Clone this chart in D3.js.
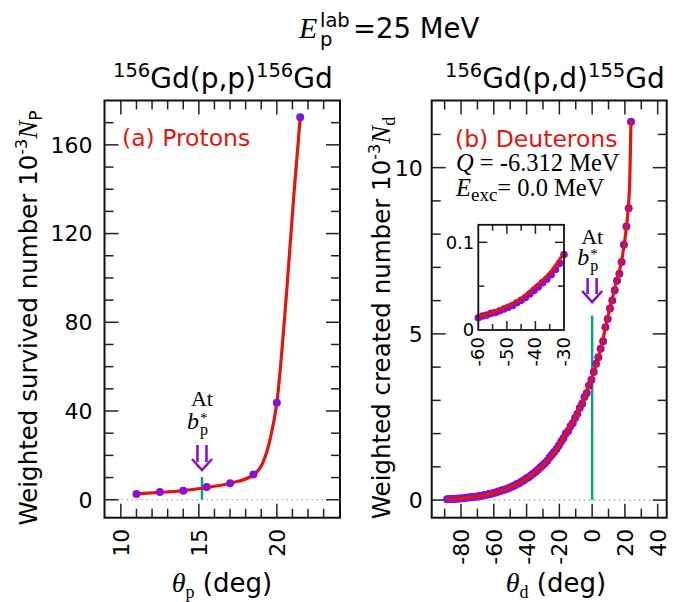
<!DOCTYPE html>
<html>
<head>
<meta charset="utf-8">
<script src="https://cdn.jsdelivr.net/npm/d3@7"></script>
<style>
  body { margin: 0; background: #fff; }
  svg { display: block; }
</style>
</head>
<body>
<svg id="chart" width="685" height="602"></svg>
<script>
// ---------- data ----------
// (a) protons
var protonTheta = [11, 12.5, 14, 15.5, 17, 18.5, 20, 21.5];
var protonN     = [2.6, 3.5, 4.1, 5.7, 7.4, 11.4, 43.7, 172.4];
var protonFitTheta = [11, 12.5, 14, 15.5, 17, 18.5, 19.1, 19.56, 20, 20.64, 21.07, 21.5];
var protonFitN     = [2.6, 3.3, 4.1, 5.5, 7.4, 11.2, 16.6, 27, 43.7, 94.8, 135.5, 172.4];

// (b) deuterons
var deutTheta = [23.7, 22.3, 20.9, 19.4, 18.0, 16.6, 15.2, 13.8, 12.3, 10.9,
  9.5, 8.1, 6.7, 5.2, 3.8, 2.4, 1.0, -0.4, -1.9, -3.3,
  -4.7, -6.1, -7.5, -9.0, -10.4, -11.8, -13.2, -14.6, -16.1, -17.5,
  -18.9, -20.3, -21.7, -23.2, -24.6, -26.0, -27.4, -28.8, -30.3, -31.7,
  -33.1, -34.5, -35.9, -37.4, -38.8, -40.2, -41.6, -43.0, -44.5, -45.9,
  -47.3, -48.7, -50.1, -51.6, -53.0, -54.4, -55.8, -57.2, -58.7, -60.1,
  -61.5, -62.9, -64.3, -65.8, -67.2, -68.6, -70.0, -71.4, -72.9, -74.3,
  -75.7, -77.1, -78.5, -80.0, -81.4, -82.8, -84.2, -85.6, -87.1, -88.5];
var deutN = [11.38, 8.78, 8.23, 7.68, 7.16, 6.81, 6.6, 6.31, 6.0, 5.76,
  5.45, 5.2, 4.78, 4.55, 4.3, 4.1, 3.85, 3.62, 3.45, 3.22,
  3.1, 2.9, 2.78, 2.6, 2.47, 2.32, 2.22, 2.08, 2.0, 1.86,
  1.76, 1.64, 1.54, 1.45, 1.36, 1.28, 1.18, 1.11, 1.04, 0.98,
  0.91, 0.85, 0.8, 0.74, 0.69, 0.65, 0.6, 0.56, 0.51, 0.48,
  0.44, 0.41, 0.38, 0.35, 0.32, 0.3, 0.28, 0.26, 0.23, 0.21,
  0.19, 0.18, 0.16, 0.15, 0.13, 0.12, 0.11, 0.1, 0.09, 0.085,
  0.075, 0.07, 0.06, 0.05, 0.045, 0.04, 0.035, 0.03, 0.03, 0.025];
var deutFitTheta = [-88.5, -80, -70, -60, -50, -40, -30, -20, -15, -10, -5, 0, 5, 10, 15, 18, 20, 21, 22, 23, 23.7];
var deutFitN     = [0.025, 0.05, 0.11, 0.21, 0.38, 0.65, 1.05, 1.65, 2.1, 2.5, 3.05, 3.7, 4.5, 5.6, 6.6, 7.2, 7.85, 8.25, 8.75, 9.7, 11.4];

// inset of (b)
var insetTheta = [-60, -58.5, -57, -55.5, -54, -52.5, -51, -49.5, -48, -46.5, -45,
  -43.5, -42, -40.5, -39, -37.5, -36, -34.5, -33, -31.5, -30];
var insetN = [0.014, 0.016, 0.017, 0.019, 0.020, 0.022, 0.024, 0.026, 0.028, 0.031, 0.034,
  0.037, 0.041, 0.045, 0.049, 0.054, 0.058, 0.063, 0.069, 0.076, 0.086];
var insetFitTheta = [-60, -55, -50, -45, -40, -35, -30];
var insetFitN     = [0.015, 0.020, 0.027, 0.036, 0.050, 0.065, 0.088];

// b*_p markers
var bStarProton = 15.2, bStarProtonTop = 10.2;
var bStarDeut = 0, bStarDeutTop = 5.55;

// ---------- styles ----------
var purple = "#8a0fd9", red = "#e5140c", green = "#0aa37c";
var sans = "DejaVu Sans, Verdana, sans-serif";
var serif = "Liberation Serif, Times New Roman, serif";

var svg = d3.select("#chart");

// ---------- scales ----------
var xL = d3.scaleLinear().domain([8.95, 24.05]).range([104.5, 340]);
var yL = d3.scaleLinear().domain([-8.1, 180]).range([517.7, 100.5]);
var xR = d3.scaleLinear().domain([-97.9, 45.5]).range([431.7, 666.7]);
var yR = d3.scaleLinear().domain([-0.53, 12.02]).range([517.7, 100.5]);
var xI = d3.scaleLinear().domain([-60, -30]).range([478.3, 564]);
var yI = d3.scaleLinear().domain([0, 0.12]).range([330, 224.8]);

function zip(a, b) { return a.map(function(v, i) { return [v, b[i]]; }); }

// frame with inward ticks on all four sides
function frame(g, x, y, o) {
  var x0 = x.range()[0], x1 = x.range()[1], yb = y.range()[0], yt = y.range()[1];
  var tk = g.append("g").attr("stroke", "#222").attr("stroke-width", 1.5);
  o.xTicks.forEach(function(v) {
    var len = o.xMajor.indexOf(v) > -1 ? o.major : o.minor;
    var px = x(v);
    if (px < x0 + 2 || px > x1 - 2) return;
    tk.append("line").attr("x1", px).attr("x2", px).attr("y1", yb).attr("y2", yb - len);
    tk.append("line").attr("x1", px).attr("x2", px).attr("y1", yt).attr("y2", yt + len);
  });
  o.yTicks.forEach(function(v) {
    var len = o.yMajor.indexOf(v) > -1 ? o.major : o.minor;
    var py = y(v);
    if (py < yt + 2 || py > yb - 2) return;
    tk.append("line").attr("y1", py).attr("y2", py).attr("x1", x0).attr("x2", x0 + len);
    tk.append("line").attr("y1", py).attr("y2", py).attr("x1", x1).attr("x2", x1 - len);
  });
  g.append("rect").attr("x", x0).attr("y", yt).attr("width", x1 - x0).attr("height", yb - yt)
    .attr("fill", "none").attr("stroke", "#111").attr("stroke-width", o.frameW || 2);

  g.selectAll(".xl").data(o.xLabels).enter().append("text")
    .attr("transform", function(d) { return "translate(" + (x(d) + o.xlShift) + "," + (yb + o.xlGap) + ") rotate(-90)"; })
    .attr("text-anchor", "end").attr("font-family", sans).attr("font-size", o.fs)
    .text(function(d) { return d < 0 ? "-" + Math.abs(d) : d; });
  g.selectAll(".yl").data(o.yLabels).enter().append("text")
    .attr("x", x0 - o.ylGap).attr("y", function(d) { return y(d) + o.fs * 0.36; })
    .attr("text-anchor", "end").attr("font-family", sans).attr("font-size", o.fs)
    .text(function(d) { return d; });
}

function zeroLine(g, x, y) {
  g.append("line").attr("x1", x.range()[0] + 2).attr("x2", x.range()[1] - 2)
    .attr("y1", y(0)).attr("y2", y(0))
    .attr("stroke", "#999").attr("stroke-width", 1.2).attr("stroke-dasharray", "1.5,3.5");
}

function arrow(g, cx, ytop, ybot) {
  var a = g.append("g").attr("stroke", purple).attr("stroke-width", 2.6).attr("fill", "none");
  a.append("line").attr("x1", cx - 4.5).attr("x2", cx - 4.5).attr("y1", ytop).attr("y2", ybot - 8);
  a.append("line").attr("x1", cx + 4.5).attr("x2", cx + 4.5).attr("y1", ytop).attr("y2", ybot - 8);
  a.append("path").attr("d", "M" + (cx - 10) + "," + (ybot - 11) + "L" + cx + "," + ybot + "L" + (cx + 10) + "," + (ybot - 11));
}

function atLabel(g, cx, yAt, yB) {
  g.append("text").attr("x", cx).attr("y", yAt).attr("text-anchor", "middle")
    .attr("font-family", serif).attr("font-size", 22).text("At");
  var t = g.append("text").attr("font-family", serif).attr("font-size", 24);
  t.append("tspan").attr("x", cx - 15).attr("y", yB).attr("font-style", "italic").text("b");
  t.append("tspan").attr("x", cx - 2).attr("y", yB - 6).attr("font-size", 15).text("*");
  t.append("tspan").attr("x", cx - 2).attr("y", yB + 6).attr("font-size", 16).text("p");
}

// ---------- titles ----------
var title = svg.append("text").attr("y", 38).attr("font-family", sans).attr("font-size", 27.5);
title.append("tspan").attr("x", 299).attr("font-family", serif).attr("font-style", "italic").attr("font-size", 30).text("E");
title.append("tspan").attr("x", 320).attr("y", 46).attr("font-size", 19.5).text("p");
title.append("tspan").attr("x", 320).attr("y", 27).attr("font-size", 19.5).text("lab");
title.append("tspan").attr("x", 353).attr("y", 38).text("=25 MeV");

function reaction(x, y, a1, mid, a2) {
  var t = svg.append("text").attr("x", x).attr("y", y).attr("font-family", sans).attr("font-size", 28);
  t.append("tspan").attr("font-size", 19.5).attr("dy", -11).text(a1);
  t.append("tspan").attr("dy", 11).text(mid);
  t.append("tspan").attr("font-size", 19.5).attr("dy", -11).text(a2);
  t.append("tspan").attr("dy", 11).text("Gd");
}
reaction(113, 88, "156", "Gd(p,p)", "156");
reaction(445, 88, "156", "Gd(p,d)", "155");

// ---------- panel (a) ----------
var gL = svg.append("g");
zeroLine(gL, xL, yL);
frame(gL, xL, yL, {
  xTicks: d3.range(9, 24.5, 1), xMajor: [10, 15, 20],
  yTicks: d3.range(0, 180, 10), yMajor: [0, 40, 80, 120, 160],
  major: 14, minor: 9, fs: 22,
  xLabels: [10, 15, 20], xlShift: 8, xlGap: 11,
  yLabels: [0, 40, 80, 120, 160], ylGap: 12
});

gL.append("line").attr("x1", xL(bStarProton)).attr("x2", xL(bStarProton))
  .attr("y1", yL(0)).attr("y2", yL(bStarProtonTop)).attr("stroke", green).attr("stroke-width", 2.5);

gL.append("path").datum(zip(protonFitTheta, protonFitN))
  .attr("fill", "none").attr("stroke", red).attr("stroke-width", 3.2)
  .attr("d", d3.line().x(function(d) { return xL(d[0]); }).y(function(d) { return yL(d[1]); }).curve(d3.curveMonotoneX));

gL.selectAll(".pt").data(zip(protonTheta, protonN)).enter().append("circle")
  .attr("cx", function(d) { return xL(d[0]); }).attr("cy", function(d) { return yL(d[1]); })
  .attr("r", 4).attr("fill", purple);

arrow(gL, xL(bStarProton), 445, 470);
atLabel(gL, xL(bStarProton), 406, 429);

gL.append("text").attr("x", 122).attr("y", 146).attr("fill", red)
  .attr("font-family", sans).attr("font-size", 23.5).text("(a) Protons");

var ylabL = gL.append("text").attr("transform", "translate(37,318) rotate(-90)")
  .attr("text-anchor", "middle").attr("font-family", sans).attr("font-size", 24.5);
ylabL.append("tspan").text("Weighted survived number  10");
ylabL.append("tspan").attr("font-size", 16).attr("dy", -10).text("-3");
ylabL.append("tspan").attr("dy", 10).attr("font-family", serif).attr("font-style", "italic").attr("font-size", 27).text("N");
ylabL.append("tspan").attr("dy", 5).attr("font-size", 17).text("P");

var xlabL = gL.append("text").attr("x", 222).attr("y", 592).attr("text-anchor", "middle")
  .attr("font-family", sans).attr("font-size", 26);
xlabL.append("tspan").attr("font-family", serif).attr("font-style", "italic").attr("font-size", 28).text("θ");
xlabL.append("tspan").attr("font-family", serif).attr("font-size", 18).attr("dy", 6).text("p");
xlabL.append("tspan").attr("dy", -6).text(" (deg)");

// ---------- panel (b) ----------
var gR = svg.append("g");
zeroLine(gR, xR, yR);
frame(gR, xR, yR, {
  xTicks: d3.range(-90, 45, 10), xMajor: [-80, -60, -40, -20, 0, 20, 40],
  yTicks: d3.range(0, 12, 1), yMajor: [0, 5, 10],
  major: 14, minor: 9, fs: 22,
  xLabels: [-80, -60, -40, -20, 0, 20, 40], xlShift: 8, xlGap: 11,
  yLabels: [0, 5, 10], ylGap: 9
});

gR.append("line").attr("x1", xR(bStarDeut)).attr("x2", xR(bStarDeut))
  .attr("y1", yR(0)).attr("y2", yR(bStarDeutTop)).attr("stroke", green).attr("stroke-width", 2.5);

gR.selectAll(".pt").data(zip(deutTheta, deutN)).enter().append("circle")
  .attr("cx", function(d) { return xR(d[0]); }).attr("cy", function(d) { return yR(d[1]); })
  .attr("r", 4).attr("fill", purple);

gR.append("path").datum(zip(deutFitTheta, deutFitN))
  .attr("fill", "none").attr("stroke", red).attr("stroke-width", 3.2)
  .attr("d", d3.line().x(function(d) { return xR(d[0]); }).y(function(d) { return yR(d[1]); }).curve(d3.curveMonotoneX));

arrow(gR, xR(bStarDeut), 278, 302);
atLabel(gR, xR(bStarDeut), 244, 265);

gR.append("text").attr("x", 455).attr("y", 147).attr("fill", red)
  .attr("font-family", sans).attr("font-size", 23.5).text("(b) Deuterons");
var q = gR.append("text").attr("x", 456).attr("y", 171).attr("font-family", serif).attr("font-size", 24.5);
q.append("tspan").attr("font-style", "italic").text("Q");
q.append("tspan").text(" = -6.312 MeV");
var ex = gR.append("text").attr("x", 456).attr("y", 196).attr("font-family", serif).attr("font-size", 24.5);
ex.append("tspan").attr("font-style", "italic").text("E");
ex.append("tspan").attr("font-size", 19).attr("dy", 5).text("exc");
ex.append("tspan").attr("dy", -5).text("= 0.0 MeV");

// inset
var gI = gR.append("g");
gI.append("rect").attr("x", 478.3).attr("y", 224.8).attr("width", 85.7).attr("height", 105.2).attr("fill", "#fff");
gI.selectAll(".pt").data(zip(insetTheta, insetN)).enter().append("circle")
  .attr("cx", function(d) { return xI(d[0]); }).attr("cy", function(d) { return yI(d[1]); })
  .attr("r", 3.8).attr("fill", purple);
gI.append("path").datum(zip(insetFitTheta, insetFitN))
  .attr("fill", "none").attr("stroke", red).attr("stroke-width", 3.2)
  .attr("d", d3.line().x(function(d) { return xI(d[0]); }).y(function(d) { return yI(d[1]); }).curve(d3.curveMonotoneX));
frame(gI, xI, yI, {
  xTicks: d3.range(-60, -29, 5), xMajor: [-50, -40],
  yTicks: [0.05, 0.1], yMajor: [0.1],
  major: 9, minor: 6, fs: 18, frameW: 1.8,
  xLabels: [-60, -50, -40, -30], xlShift: 6, xlGap: 7,
  yLabels: [0, 0.1], ylGap: 4
});

var ylabR = gR.append("text").attr("transform", "translate(390,318) rotate(-90)")
  .attr("text-anchor", "middle").attr("font-family", sans).attr("font-size", 24.5);
ylabR.append("tspan").text("Weighted created number  10");
ylabR.append("tspan").attr("font-size", 16).attr("dy", -10).text("-3");
ylabR.append("tspan").attr("dy", 10).attr("font-family", serif).attr("font-style", "italic").attr("font-size", 27).text("N");
ylabR.append("tspan").attr("dy", 5).attr("font-family", serif).attr("font-size", 18).text("d");

var xlabR = gR.append("text").attr("x", 556).attr("y", 592).attr("text-anchor", "middle")
  .attr("font-family", sans).attr("font-size", 26);
xlabR.append("tspan").attr("font-family", serif).attr("font-style", "italic").attr("font-size", 28).text("θ");
xlabR.append("tspan").attr("font-family", serif).attr("font-size", 18).attr("dy", 6).text("d");
xlabR.append("tspan").attr("dy", -6).text(" (deg)");
</script>
</body>
</html>
